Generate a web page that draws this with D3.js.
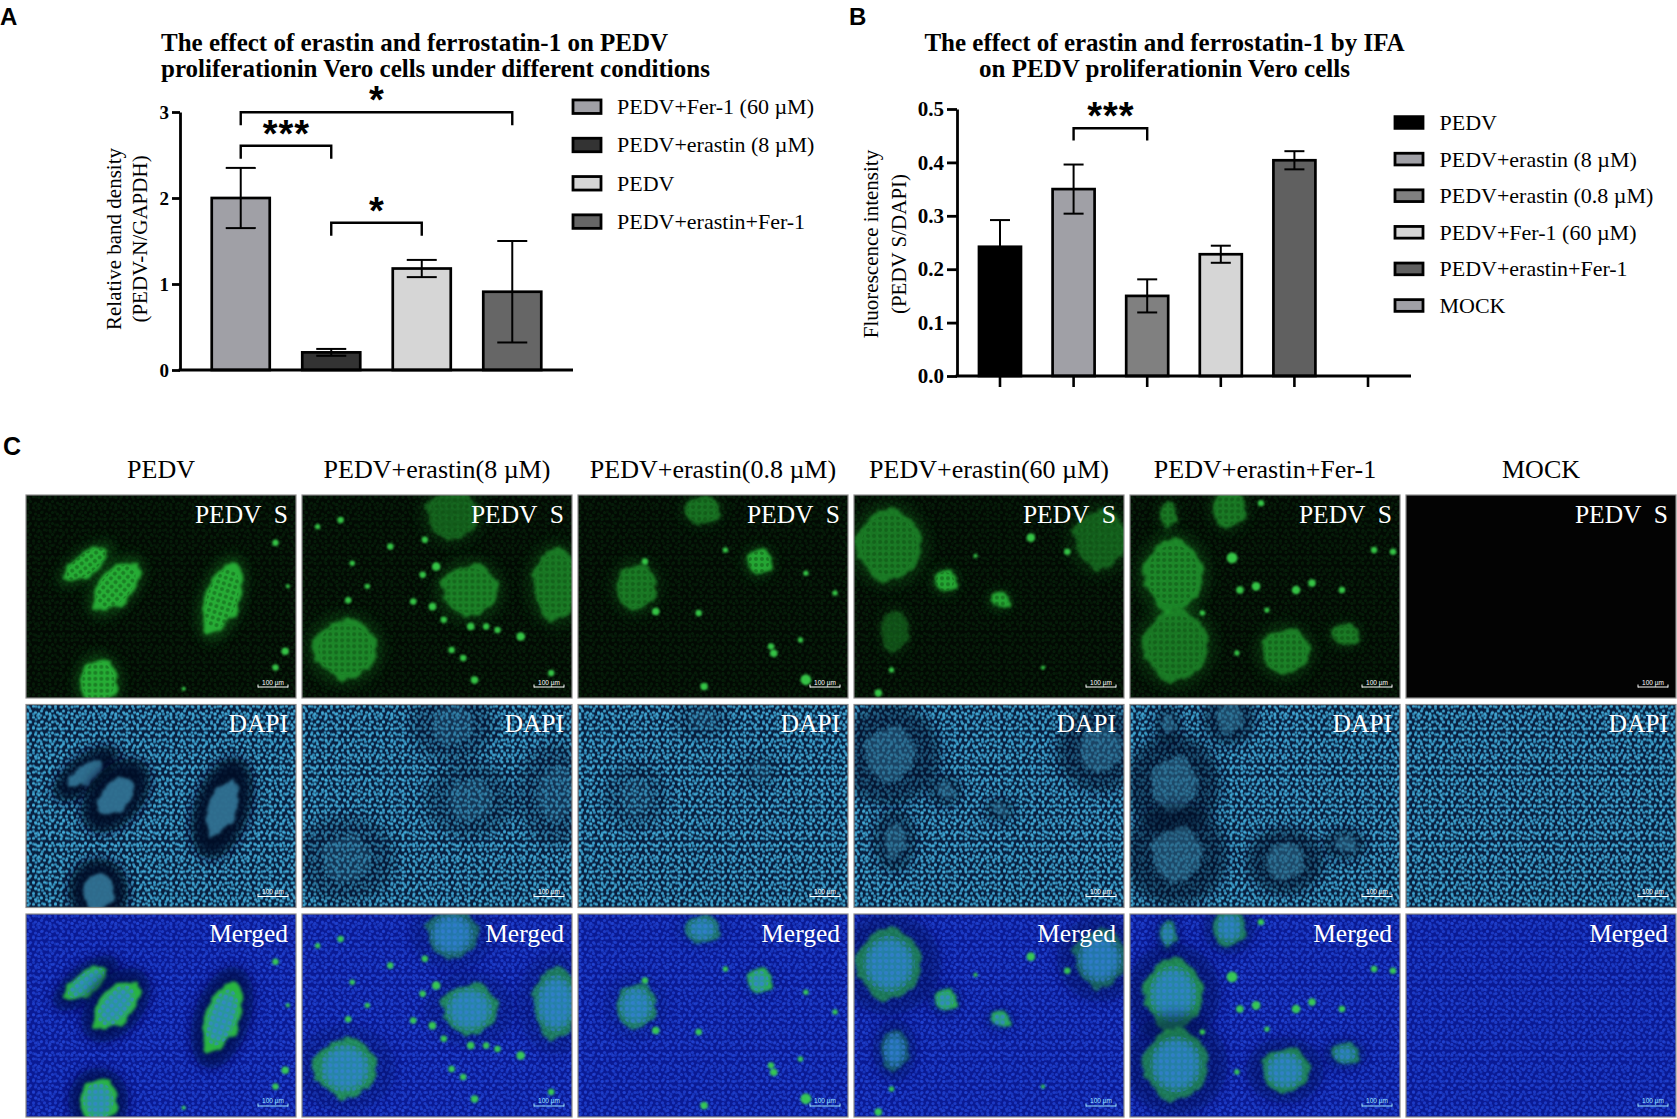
<!DOCTYPE html>
<html>
<head>
<meta charset="utf-8">
<script src="https://cdn.jsdelivr.net/npm/d3@7"></script>
<style>
  body { margin: 0; background: #fff; }
  svg text { font-family: "Liberation Serif", "Times New Roman", serif; }
</style>
</head>
<body>
<div id="figure"></div>
<script>
// ---------- panel A : western blot densitometry ----------
const groupsA = ["PEDV+Fer-1 (60 µM)", "PEDV+erastin (8 µM)", "PEDV", "PEDV+erastin+Fer-1"];
const meanA = [2.0, 0.205, 1.18, 0.91];
const errA = [0.35, 0.04, 0.10, 0.59];
const fillA = ["#a0a0a6", "#333333", "#d6d6d6", "#666666"];
const ticksA = [0, 1, 2, 3];
// [from group, to group, bracket height, label]
const sigA = [[0, 3, 2.997, "*"], [0, 1, 2.608, "***"], [1, 2, 1.713, "*"]];

// ---------- panel B : IFA fluorescence ----------
const groupsB = ["PEDV", "PEDV+erastin (8 µM)", "PEDV+erastin (0.8 µM)", "PEDV+Fer-1 (60 µM)", "PEDV+erastin+Fer-1", "MOCK"];
const meanB = [0.242, 0.350, 0.150, 0.228, 0.404, 0];
const errB = [0.050, 0.046, 0.031, 0.016, 0.017, 0];
const fillB = ["#000000", "#a0a0a6", "#808080", "#d6d6d6", "#606060", "#a0a0a6"];
const ticksB = [0, 0.1, 0.2, 0.3, 0.4, 0.5];
const sigB = [[1, 2, 0.464, "***"]];

// ---------- panel C : micrographs ----------
const colTitles = ["PEDV", "PEDV+erastin(8 µM)", "PEDV+erastin(0.8 µM)", "PEDV+erastin(60 µM)", "PEDV+erastin+Fer-1", "MOCK"];
const rowLabels = ["PEDV  S", "DAPI", "Merged"];
// infected foci: [cx, cy, rx, ry, rotation, brightness]  (cx,rx,ry as share of width, cy of height)
const fociPEDV = [[0.222, 0.34, 0.042, 0.10, 53, 1], [0.333, 0.45, 0.063, 0.11, 40, 1], [0.726, 0.51, 0.065, 0.135, 18, 1], [0.268, 0.92, 0.07, 0.085, 0, 1]];
const fociEr8 = [[0.555, 0.10, 0.098, 0.093, 0, 0.45], [0.62, 0.47, 0.105, 0.098, 0, 0.65], [0.94, 0.44, 0.09, 0.13, 0, 0.6], [0.16, 0.76, 0.117, 0.111, 0, 0.7]];
const fociEr08 = [[0.214, 0.453, 0.075, 0.087, 0, 0.6], [0.46, 0.074, 0.065, 0.05, 0, 0.55], [0.67, 0.33, 0.045, 0.047, 0, 0.95]];
const fociEr60 = [[0.13, 0.246, 0.12, 0.13, 0, 0.6], [0.91, 0.22, 0.10, 0.11, 0, 0.45], [0.337, 0.425, 0.04, 0.04, 0, 0.95], [0.54, 0.52, 0.035, 0.03, 0, 0.95], [0.15, 0.67, 0.05, 0.08, 0, 0.35]];
const fociErFer = [[0.16, 0.394, 0.11, 0.13, 0, 0.7], [0.17, 0.74, 0.12, 0.13, 0, 0.6], [0.574, 0.77, 0.09, 0.085, 0, 0.65], [0.367, 0.066, 0.06, 0.07, 0, 0.6], [0.14, 0.10, 0.03, 0.05, 0, 0.6], [0.796, 0.69, 0.05, 0.04, 0, 0.6]];
const fociMock = [];
// single infected cells: [x, y, r]
const dotsPEDV = [[0.924, 0.235, 0.012], [0.96, 0.77, 0.014], [0.924, 0.85, 0.012], [0.584, 0.955, 0.008], [0.97, 0.45, 0.008]];
const dotsEr8 = [[0.143, 0.123, 0.012], [0.327, 0.254, 0.012], [0.455, 0.221, 0.012], [0.186, 0.336, 0.01], [0.497, 0.352, 0.016], [0.447, 0.393, 0.012], [0.412, 0.525, 0.012], [0.483, 0.55, 0.014], [0.171, 0.518, 0.012], [0.525, 0.614, 0.012], [0.625, 0.648, 0.014], [0.682, 0.648, 0.012], [0.724, 0.665, 0.012], [0.81, 0.697, 0.016], [0.554, 0.763, 0.012], [0.597, 0.803, 0.012], [0.639, 0.911, 0.014], [0.923, 0.877, 0.012], [0.058, 0.156, 0.01], [0.242, 0.45, 0.01]];
const dotsEr08 = [[0.248, 0.328, 0.012], [0.288, 0.574, 0.014], [0.447, 0.581, 0.012], [0.546, 0.271, 0.01], [0.725, 0.78, 0.014], [0.844, 0.385, 0.01], [0.952, 0.483, 0.01], [0.824, 0.714, 0.01], [0.467, 0.943, 0.014], [0.844, 0.91, 0.02], [0.715, 0.746, 0.012]];
const dotsEr60 = [[0.09, 0.975, 0.014], [0.79, 0.28, 0.012], [0.139, 0.862, 0.01], [0.655, 0.21, 0.016], [0.70, 0.85, 0.008], [0.45, 0.30, 0.008]];
const dotsErFer = [[0.467, 0.45, 0.016], [0.615, 0.468, 0.016], [0.674, 0.434, 0.014], [0.904, 0.271, 0.012], [0.974, 0.28, 0.012], [0.268, 0.581, 0.01], [0.396, 0.778, 0.01], [0.407, 0.468, 0.014], [0.507, 0.567, 0.01], [0.785, 0.468, 0.012], [0.485, 0.04, 0.012], [0.378, 0.31, 0.02]];
const dotsMock = [];
const nucleiGap = [0.95, 0.3, 0.2, 0.5, 0.55, 0]; // how dark the DAPI holes around foci are

const foci = [fociPEDV, fociEr8, fociEr08, fociEr60, fociErFer, fociMock];
const dots = [dotsPEDV, dotsEr8, dotsEr08, dotsEr60, dotsErFer, dotsMock];

const W = 1677, H = 1119;
const SERIF = '"Liberation Serif", "Times New Roman", serif';
const SANS = '"Liberation Sans", Arial, sans-serif';

const svg = d3.select("#figure").append("svg")
  .attr("width", W).attr("height", H)
  .style("display", "block");
svg.append("rect").attr("width", W).attr("height", H).attr("fill", "#fff");
const defs = svg.append("defs");

// ---------------- bar charts ----------------
function barChart(o) {
  const g = svg.append("g");
  const x = d3.scalePoint().domain(o.groups).range([o.left, o.right]).padding(o.pad);
  const y = d3.scaleLinear().domain([0, d3.max(o.ticks)]).range([o.bottom, o.top]);
  const rows = o.groups.map((k, i) => ({ k: k, m: o.mean[i], e: o.err[i], c: o.fill[i] }));

  g.selectAll("rect.bar").data(rows.filter(d => d.m > 0)).join("rect")
    .attr("class", "bar")
    .attr("x", d => x(d.k) - o.bw / 2).attr("width", o.bw)
    .attr("y", d => y(d.m)).attr("height", d => y(0) - y(d.m))
    .attr("fill", d => d.c).attr("stroke", "#000").attr("stroke-width", 2.7);

  // error bars
  const eb = g.selectAll("g.err").data(rows.filter(d => d.e > 0)).join("g").attr("class", "err")
    .attr("stroke", "#000").attr("stroke-width", 2);
  eb.append("line").attr("x1", d => x(d.k)).attr("x2", d => x(d.k))
    .attr("y1", d => y(d.m - d.e)).attr("y2", d => y(d.m + d.e));
  eb.append("line").attr("x1", d => x(d.k) - o.cap).attr("x2", d => x(d.k) + o.cap)
    .attr("y1", d => y(d.m + d.e)).attr("y2", d => y(d.m + d.e));
  eb.append("line").attr("x1", d => x(d.k) - o.cap).attr("x2", d => x(d.k) + o.cap)
    .attr("y1", d => y(d.m - d.e)).attr("y2", d => y(d.m - d.e));

  // y axis
  const ya = g.append("g").attr("transform", `translate(${o.left},0)`)
    .call(d3.axisLeft(y).tickValues(o.ticks).tickSize(o.tickLen).tickSizeOuter(0).tickPadding(3).tickFormat(o.fmt));
  ya.attr("font-family", SERIF).attr("font-size", o.tickFont).attr("font-weight", "bold");
  ya.select(".domain").attr("stroke-width", 2.8);
  ya.selectAll(".tick line").attr("stroke-width", 2.8);
  ya.selectAll(".tick text").attr("fill", "#000");

  // x axis line
  g.append("line").attr("x1", o.left - 1.4).attr("x2", o.right)
    .attr("y1", y(0)).attr("y2", y(0)).attr("stroke", "#000").attr("stroke-width", 2.8);
  if (o.xTicks) {
    g.selectAll("line.xt").data(o.groups).join("line").attr("class", "xt")
      .attr("x1", d => x(d)).attr("x2", d => x(d))
      .attr("y1", y(0)).attr("y2", y(0) + 11)
      .attr("stroke", "#000").attr("stroke-width", 2.6);
  }

  // significance brackets
  const sg = g.selectAll("g.sig").data(o.sig).join("g").attr("class", "sig");
  sg.append("path")
    .attr("d", d => {
      const x1 = x(o.groups[d[0]]), x2 = x(o.groups[d[1]]), yy = y(d[2]);
      return `M${x1},${yy + o.drop}V${yy}H${x2}V${yy + o.drop}`;
    })
    .attr("fill", "none").attr("stroke", "#000").attr("stroke-width", 2.4);
  sg.append("text")
    .attr("x", d => (x(o.groups[d[0]]) + x(o.groups[d[1]])) / 2 + 0.5)
    .attr("y", d => y(d[2]) + 1)
    .attr("text-anchor", "middle")
    .style("font-family", SANS).style("font-weight", "bold").style("font-size", "38px")
    .style("letter-spacing", "1px")
    .text(d => d[3]);

  // axis title (two lines, rotated)
  o.yTitle.forEach((t, i) => {
    g.append("text")
      .attr("transform", `translate(${o.yTitleX[i]},${o.yTitleY}) rotate(-90)`)
      .attr("text-anchor", "middle")
      .style("font-size", "21px")
      .text(t);
  });

  // chart title
  o.title.forEach((t, i) => {
    g.append("text")
      .attr("x", o.titleX).attr("y", o.titleY[i])
      .attr("text-anchor", o.titleAnchor)
      .style("font-weight", "bold").style("font-size", "25px")
      .text(t);
  });

  // legend
  const lg = g.selectAll("g.leg").data(rows).join("g").attr("class", "leg")
    .attr("transform", (d, i) => `translate(${o.legX},${o.legY + i * o.legStep})`);
  lg.append("rect").attr("x", 0).attr("y", -o.legH / 2)
    .attr("width", o.legW).attr("height", o.legH)
    .attr("fill", d => d.c).attr("stroke", "#000").attr("stroke-width", 2.8);
  lg.append("text").attr("x", o.legTextDx).attr("y", 0).attr("dy", "0.34em")
    .style("font-size", "22px").text(d => d.k);

  // panel letter
  g.append("text").attr("x", o.letterX).attr("y", 25)
    .style("font-family", SANS).style("font-weight", "bold").style("font-size", "24px")
    .text(o.letter);
}

barChart({
  letter: "A", letterX: 0,
  groups: groupsA, mean: meanA, err: errA, fill: fillA, ticks: ticksA, sig: sigA,
  left: 180, right: 573, top: 112, bottom: 370, pad: 0.671, bw: 58, cap: 15,
  tickLen: 8, tickFont: "19px", fmt: d3.format("d"), xTicks: false, drop: 13,
  yTitle: ["Relative band density", "(PEDV-N/GAPDH)"], yTitleX: [121, 146.5], yTitleY: 239,
  title: ["The effect of erastin and ferrostatin-1 on PEDV", "proliferationin Vero cells under different conditions"],
  titleX: 161, titleY: [50.5, 77], titleAnchor: "start",
  legX: 573, legY: 106.7, legStep: 38.3, legW: 28, legH: 13.5, legTextDx: 44
});

barChart({
  letter: "B", letterX: 849,
  groups: groupsB, mean: meanB, err: errB, fill: fillB, ticks: ticksB, sig: sigB,
  left: 957, right: 1411, top: 109, bottom: 376, pad: 0.584, bw: 42, cap: 10,
  tickLen: 10, tickFont: "21px", fmt: d3.format(".1f"), xTicks: true, drop: 12.4,
  yTitle: ["Fluorescence intensity", "(PEDV S/DAPI)"], yTitleX: [878, 906], yTitleY: 244,
  title: ["The effect of erastin and ferrostatin-1 by IFA", "on PEDV proliferationin Vero cells"],
  titleX: 1164.5, titleY: [50.5, 77], titleAnchor: "middle",
  legX: 1395, legY: 122.5, legStep: 36.6, legW: 28, legH: 11.7, legTextDx: 44.5
});

// ---------------- micrograph grid ----------------
function addBlur(id, s) {
  defs.append("filter").attr("id", id)
    .attr("x", "-60%").attr("y", "-60%").attr("width", "220%").attr("height", "220%")
    .append("feGaussianBlur").attr("stdDeviation", s);
}
addBlur("b1", 1); addBlur("b3", 3); addBlur("b6", 6);

// rough, soft edge for infected foci
const rough = defs.append("filter").attr("id", "rough")
  .attr("x", "-40%").attr("y", "-40%").attr("width", "180%").attr("height", "180%");
rough.append("feTurbulence").attr("type", "fractalNoise").attr("baseFrequency", 0.07)
  .attr("numOctaves", 2).attr("seed", 3).attr("result", "t");
rough.append("feDisplacementMap").attr("in", "SourceGraphic").attr("in2", "t")
  .attr("scale", 12).attr("xChannelSelector", "R").attr("yChannelSelector", "G").attr("result", "d");
rough.append("feGaussianBlur").attr("in", "d").attr("stdDeviation", 1.6);

// texture tile larger than a micrograph (so no seams), built from two small nucleus layouts
const tile11 = [[2, 2.5], [7.5, 1.8], [4.5, 6.5], [9.5, 8], [1.8, 9.4]];
const tile13 = [[3.5, 4], [10, 2], [7.5, 9.5], [11.5, 11.2], [2, 11]];
const TILE = 286;
function texPattern(id, layers) {
  const p = defs.append("pattern").attr("id", id)
    .attr("patternUnits", "userSpaceOnUse").attr("width", TILE).attr("height", TILE);
  layers.forEach(L => {
    const pts = [];
    for (let ox = 0; ox < TILE; ox += L.size)
      for (let oy = 0; oy < TILE; oy += L.size)
        L.pts.forEach(q => pts.push([ox + q[0], oy + q[1]]));
    p.selectAll(null).data(pts).join("circle")
      .attr("cx", q => q[0]).attr("cy", q => q[1]).attr("r", L.r)
      .attr("fill", L.color).attr("fill-opacity", L.op);
  });
}
texPattern("texGreen", [
  { size: 11, pts: tile11, r: 1.5, color: "#06220a", op: 0.8 },
  { size: 13, pts: tile13, r: 1.4, color: "#051c08", op: 0.7 }]);
texPattern("texDapi", [
  { size: 13, pts: tile13, r: 1.5, color: "#3aa2d2", op: 0.8 },
  { size: 11, pts: tile11, r: 1.55, color: "#46b4e0", op: 0.88 }]);
texPattern("texMerge", [
  { size: 13, pts: tile13, r: 1.5, color: "#1e40cc", op: 0.65 },
  { size: 11, pts: tile11, r: 1.6, color: "#2348da", op: 0.7 }]);

function dotPattern(id, size, pts, r, color, op) {
  const p = defs.append("pattern").attr("id", id)
    .attr("patternUnits", "userSpaceOnUse").attr("width", size).attr("height", size);
  pts.forEach(q => p.append("circle").attr("cx", q[0]).attr("cy", q[1]).attr("r", r)
    .attr("fill", color).attr("fill-opacity", op));
}
dotPattern("meshDark", 6, [[3, 3]], 2.0, "#0a4a10", 0.45);
dotPattern("meshBlue", 6, [[3, 3]], 2.0, "#3a7ee8", 0.5);

const colX = d3.scaleBand().domain(d3.range(6)).range([26, 1676]).paddingInner(0.0217);
const rowY = d3.scaleBand().domain(d3.range(3)).range([495, 1117]).paddingInner(0.031);
const pw = colX.bandwidth(), ph = rowY.bandwidth();
const px = d3.scaleLinear().domain([0, 1]).range([0, pw]);
const py = d3.scaleLinear().domain([0, 1]).range([0, ph]);

svg.append("text").attr("x", 3).attr("y", 455)
  .style("font-family", SANS).style("font-weight", "bold").style("font-size", "25px").text("C");

svg.selectAll("text.colTitle").data(colTitles).join("text").attr("class", "colTitle")
  .attr("x", (d, i) => colX(i) + pw / 2).attr("y", 478)
  .attr("text-anchor", "middle").style("font-size", "26px").text(d => d);

const cells = [];
d3.range(3).forEach(r => d3.range(6).forEach(c => cells.push({ r: r, c: c })));

defs.append("clipPath").attr("id", "cellClip")
  .append("rect").attr("width", pw).attr("height", ph);

const bgColor = ["#020a03", "#082040", "#0a1a94"];
const texIds = ["texGreen", "texDapi", "texMerge"];

const cell = svg.selectAll("g.cell").data(cells).join("g").attr("class", "cell")
  .attr("transform", d => `translate(${colX(d.c)},${rowY(d.r)})`);

cell.each(function (d) {
  const g = d3.select(this);
  const inner = g.append("g").attr("clip-path", "url(#cellClip)");
  const hs = nucleiGap[d.c];
  const mock = d.c === 5;

  inner.append("rect").attr("width", pw).attr("height", ph)
    .attr("fill", mock && d.r === 0 ? "#030303" : bgColor[d.r]);
  if (!(mock && d.r === 0)) {
    inner.append("rect").attr("width", pw).attr("height", ph)
      .attr("fill", `url(#${texIds[d.r]})`);
  }

  const fg = inner.selectAll("g.focus").data(foci[d.c]).join("g").attr("class", "focus")
    .attr("transform", f => `translate(${px(f[0])},${py(f[1])}) rotate(${f[4]})`);

  if (d.r === 0) {
    fg.append("ellipse").attr("rx", f => px(f[2]) * 1.25).attr("ry", f => px(f[3]) * 1.25)
      .attr("fill", "#158024").attr("opacity", f => 0.4 * f[5]).attr("filter", "url(#b6)");
    fg.append("ellipse").attr("rx", f => px(f[2])).attr("ry", f => px(f[3]))
      .attr("fill", "#26ac34").attr("opacity", f => f[5]).attr("filter", "url(#rough)");
    fg.append("ellipse").attr("rx", f => px(f[2]) * 0.85).attr("ry", f => px(f[3]) * 0.85)
      .attr("fill", "url(#meshDark)");
  } else if (d.r === 1) {
    fg.append("ellipse").attr("rx", f => px(f[2]) * 1.6).attr("ry", f => px(f[3]) * 1.45)
      .attr("fill", "#041128").attr("opacity", hs).attr("filter", "url(#b6)");
    fg.append("ellipse").attr("rx", f => px(f[2]) * 0.8).attr("ry", f => px(f[3]) * 0.8)
      .attr("fill", "#58c2ea").attr("opacity", 0.55 * hs).attr("filter", "url(#rough)");
  } else {
    fg.append("ellipse").attr("rx", f => px(f[2]) * 1.6).attr("ry", f => px(f[3]) * 1.45)
      .attr("fill", "#050e4c").attr("opacity", hs * 0.85).attr("filter", "url(#b6)");
    fg.append("ellipse").attr("rx", f => px(f[2])).attr("ry", f => px(f[3]))
      .attr("fill", "#2ec83c").attr("opacity", f => 0.9 * f[5]).attr("filter", "url(#rough)");
    fg.append("ellipse").attr("rx", f => px(f[2]) * 0.7).attr("ry", f => px(f[3]) * 0.7)
      .attr("fill", "#2a84d2").attr("opacity", 0.65).attr("filter", "url(#b3)");
    fg.append("ellipse").attr("rx", f => px(f[2]) * 0.8).attr("ry", f => px(f[3]) * 0.8)
      .attr("fill", "url(#meshBlue)");
  }

  if (d.r !== 1) {
    inner.selectAll("circle.spot").data(dots[d.c]).join("circle").attr("class", "spot")
      .attr("cx", s => px(s[0])).attr("cy", s => py(s[1])).attr("r", s => px(s[2]))
      .attr("fill", "#3ad84e").attr("opacity", 0.9).attr("filter", "url(#b1)");
  }

  // scale bar
  const sbColor = d.r === 2 ? "#9fe6ff" : "#ffffff";
  const sb = inner.append("g").attr("transform", `translate(${pw - 38},${ph - 11})`);
  sb.append("path").attr("d", "M0,0H30M0,-2.5V0.5M30,-2.5V0.5")
    .attr("stroke", sbColor).attr("stroke-width", 1).attr("fill", "none");
  sb.append("text").attr("x", 15).attr("y", -2.5).attr("text-anchor", "middle")
    .style("font-family", SANS).style("font-size", "6.5px").attr("fill", sbColor).text("100 µm");

  // channel label
  inner.append("text").attr("x", pw - 8).attr("y", 28).attr("text-anchor", "end")
    .style("font-size", "25.5px").style("white-space", "pre").attr("fill", "#fff")
    .text(rowLabels[d.r]);

  g.append("rect").attr("width", pw).attr("height", ph)
    .attr("fill", "none").attr("stroke", "#8c8c8c").attr("stroke-width", 1.2);
});
</script>
</body>
</html>
